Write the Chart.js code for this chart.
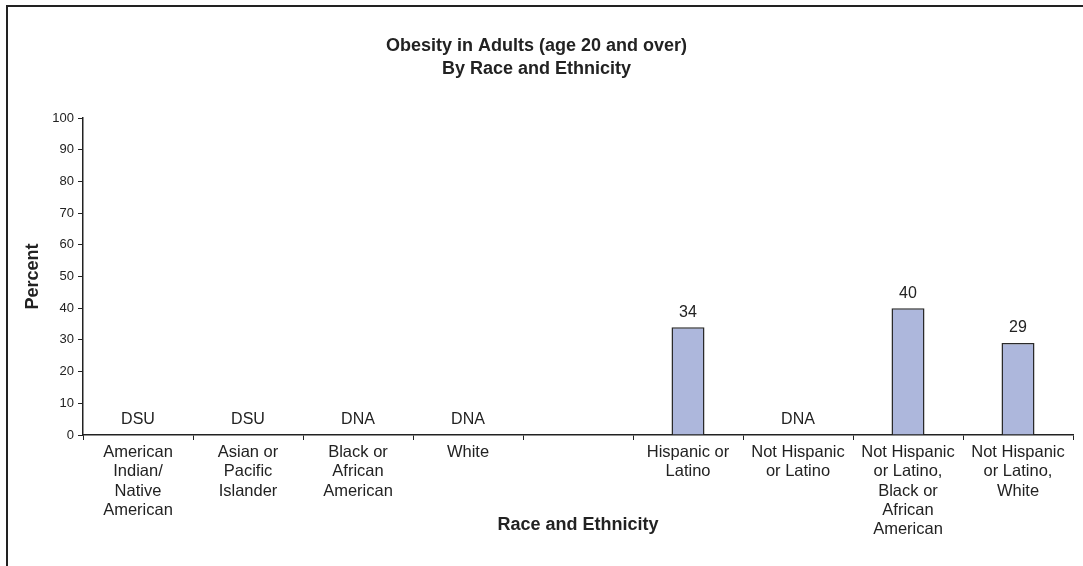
<!DOCTYPE html>
<html>
<head>
<meta charset="utf-8">
<title>Obesity in Adults (age 20 and over) By Race and Ethnicity</title>
<script src="https://cdn.jsdelivr.net/npm/chart.js@4/dist/chart.umd.min.js"></script>
<style>
  html, body { margin: 0; padding: 0; background: #fff; overflow: hidden; }
  #frame { position: absolute; left: 6px; top: 5px; width: 1200px; height: 700px; border: 2px solid #222; box-sizing: border-box; }
  #wrap { position: absolute; left: 0; top: 0; width: 1083px; height: 566px; }
</style>
</head>
<body>
<div id="frame"></div>
<div id="wrap"><canvas id="chart" width="1083" height="566"></canvas></div>
<script>
// Categories (an empty slot separates the race group from the ethnicity group)
const categories = [
  ['American', 'Indian/', 'Native', 'American'],
  ['Asian or', 'Pacific', 'Islander'],
  ['Black or', 'African', 'American'],
  ['White'],
  [''],
  ['Hispanic or', 'Latino'],
  ['Not Hispanic', 'or Latino'],
  ['Not Hispanic', 'or Latino,', 'Black or', 'African', 'American'],
  ['Not Hispanic', 'or Latino,', 'White']
];
// Percent of adults who are obese; null where no value is reported
const percentValues = [null, null, null, null, null, 34, null, 40, 29];
// Status shown where no value is reported
const statusNotes = ['DSU', 'DSU', 'DNA', 'DNA', '', '', 'DNA', '', ''];
const yTicks = [0, 10, 20, 30, 40, 50, 60, 70, 80, 90, 100];

const FONT = "'Liberation Sans', Arial, Helvetica, sans-serif";
const INK = '#222';

// Writes each bar's value above it, or the status note on the baseline
const valueLabels = {
  id: 'valueLabels',
  afterDatasetsDraw(chart) {
    const ctx = chart.ctx;
    const meta = chart.getDatasetMeta(0);
    const yScale = chart.scales.y;
    ctx.save();
    ctx.font = '16px ' + FONT;
    ctx.fillStyle = INK;
    ctx.textAlign = 'center';
    ctx.textBaseline = 'middle';
    meta.data.forEach((bar, i) => {
      const v = percentValues[i];
      if (v !== null) {
        ctx.fillText(String(v), bar.x, bar.y - 15);
      } else if (statusNotes[i]) {
        ctx.fillText(statusNotes[i], bar.x, yScale.getPixelForValue(0) - 15);
      }
    });
    ctx.restore();
  }
};

new Chart(document.getElementById('chart'), {
  type: 'bar',
  data: {
    labels: categories,
    datasets: [{
      data: percentValues,
      backgroundColor: '#adb7dc',
      borderColor: '#2a2a2a',
      borderWidth: 1.5,
      barPercentage: 0.6,
      categoryPercentage: 0.5
    }]
  },
  options: {
    responsive: false,
    animation: false,
    layout: { padding: { left: 0, right: 10, top: 0, bottom: 0 } },
    plugins: {
      legend: { display: false },
      tooltip: { enabled: false },
      title: {
        display: true,
        text: ['Obesity in Adults (age 20 and over)', 'By Race and Ethnicity'],
        color: INK,
        font: { family: FONT, size: 18, weight: 'bold', lineHeight: '23px' },
        padding: { top: 34.5, bottom: 37.5 }
      }
    },
    scales: {
      x: {
        offset: true,
        grid: { display: true, offset: true, drawOnChartArea: false, drawTicks: true, tickLength: 5, color: INK, lineWidth: 1 },
        border: { display: true, color: INK, width: 1.5 },
        ticks: {
          color: INK,
          font: { family: FONT, size: 16.5, lineHeight: '19.3px' },
          maxRotation: 0,
          autoSkip: false,
          padding: 3
        },
        title: {
          display: true,
          text: 'Race and Ethnicity',
          color: INK,
          font: { family: FONT, size: 18, weight: 'bold' },
          padding: { top: 0, bottom: 30 }
        },
        afterFit(scale) { scale.height = 131; }
      },
      y: {
        min: 0,
        max: 100,
        afterBuildTicks(scale) { scale.ticks = yTicks.map(v => ({ value: v })); },
        grid: { display: true, drawOnChartArea: false, drawTicks: true, tickLength: 5, color: INK, lineWidth: 1 },
        border: { display: true, color: INK, width: 1.5 },
        ticks: {
          color: INK,
          font: { family: FONT, size: 13 },
          padding: 4
        },
        title: {
          display: true,
          text: 'Percent',
          color: INK,
          font: { family: FONT, size: 18, weight: 'bold' },
          padding: { top: 22, bottom: 0 }
        },
        afterFit(scale) { scale.width = 83; }
      }
    }
  },
  plugins: [valueLabels]
});
</script>
</body>
</html>
